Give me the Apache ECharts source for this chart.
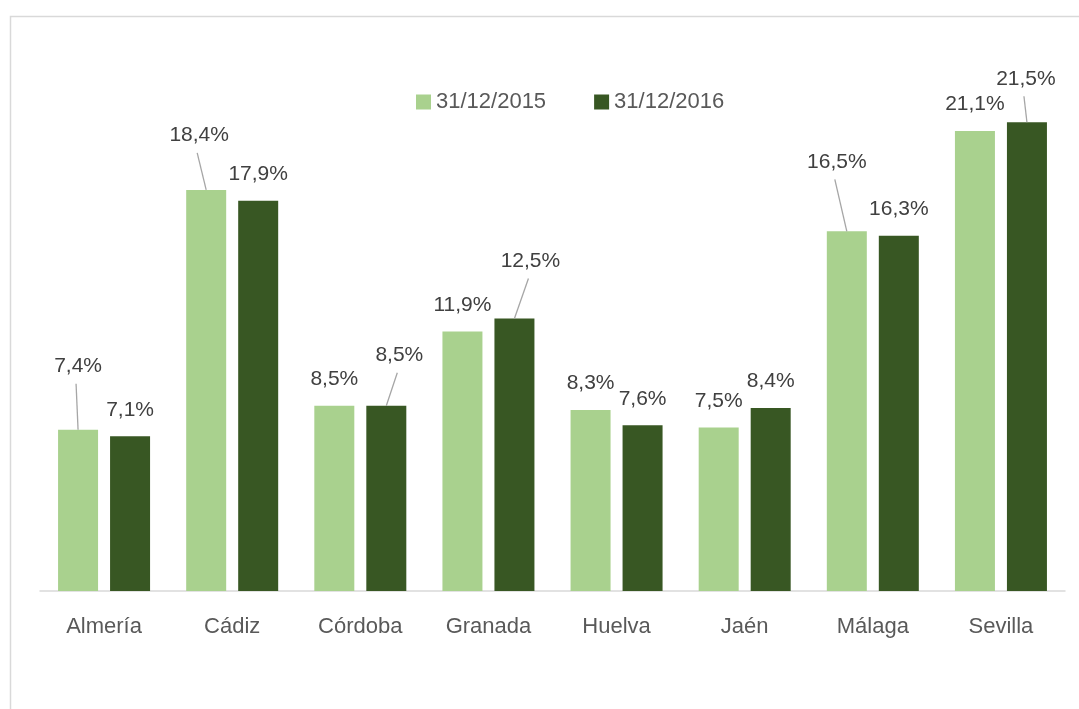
<!DOCTYPE html>
<html>
<head>
<meta charset="utf-8">
<script src="https://cdn.jsdelivr.net/npm/echarts@6/dist/echarts.min.js"></script>
<style>
  html, body { margin: 0; padding: 0; background: #fff; }
  #chart { width: 1079px; height: 709px; }
</style>
</head>
<body>
<div id="chart"></div>
<script>
  // datos
  const provincias = ['Almería', 'Cádiz', 'Córdoba', 'Granada', 'Huelva', 'Jaén', 'Málaga', 'Sevilla'];
  const nombres = ['31/12/2015', '31/12/2016'];
  const valores2015 = [7.4, 18.4, 8.5, 11.9, 8.3, 7.5, 16.5, 21.1];
  const valores2016 = [7.1, 17.9, 8.5, 12.5, 7.6, 8.4, 16.3, 21.5];

  // desplazamiento de etiquetas con línea guía [dx, dy]
  const desplaza2015 = { 0: [0, -37], 1: [-7, -28], 6: [-10, -43] };
  const desplaza2016 = { 2: [13, -24], 3: [16, -31], 7: [-1, -17] };
  const desplazamientos = [desplaza2015, desplaza2016];

  const fuente = '"Liberation Sans", Arial, sans-serif';
  const colores = ['#a9d18e', '#385723'];
  const anchoBarra = 40;
  const separacion = 12;
  const distEtiqueta = 16;
  const tamEtiqueta = 21;

  const fmt = (p) => p.value.toFixed(1).replace('.', ',') + '%';

  const serie = (idx, vals, desp) => ({
    name: nombres[idx],
    type: 'bar',
    barWidth: anchoBarra,
    barGap: (separacion / anchoBarra) * 100 + '%',
    color: colores[idx],
    data: vals,
    label: {
      show: true,
      position: 'top',
      distance: distEtiqueta,
      offset: [-2, 0],
      color: '#404040',
      fontSize: tamEtiqueta,
      fontFamily: fuente,
      formatter: fmt,
    },
    labelLayout: (params) => {
      const d = desp[params.dataIndex];
      return d ? { dx: d[0], dy: d[1] } : {};
    },
  });

  // líneas guía de las etiquetas desplazadas
  const guias = [];
  [valores2015, valores2016].forEach((vals, s) => {
    Object.keys(desplazamientos[s]).forEach((k) => {
      guias.push([+k, vals[+k], s]);
    });
  });

  const lineasGuia = {
    type: 'custom',
    silent: true,
    z: 5,
    data: guias,
    encode: { x: 0, y: 1 },
    renderItem: (params, api) => {
      const i = api.value(0);
      const s = api.value(2);
      const d = desplazamientos[s][i];
      const tope = api.coord([i, api.value(1)]);
      const bx = tope[0] + (s === 0 ? -1 : 1) * (anchoBarra + separacion) / 2;
      const lx = bx - 2 + d[0];
      const ly = tope[1] - distEtiqueta + d[1] + 7;
      return {
        type: 'line',
        shape: { x1: lx, y1: ly, x2: bx, y2: tope[1] },
        style: { stroke: '#a6a6a6', lineWidth: 1.3 },
      };
    },
  };

  const myChart = echarts.init(document.getElementById('chart'));
  const option = {
    animation: false,
    grid: { left: 40, right: 14, top: 46, bottom: 118 },
    legend: {
      left: 411,
      top: 86,
      icon: 'rect',
      itemWidth: 15,
      itemHeight: 15,
      itemGap: 48,
      textStyle: { color: '#595959', fontSize: 22, fontFamily: fuente },
      data: nombres,
    },
    graphic: [
      {
        type: 'rect',
        shape: { x: 10.5, y: 16.5, width: 1200, height: 800 },
        style: { fill: 'none', stroke: '#d9d9d9', lineWidth: 1.5 },
        silent: true,
      },
    ],
    xAxis: {
      type: 'category',
      data: provincias,
      axisTick: { show: false },
      axisLine: { lineStyle: { color: '#d9d9d9', width: 1.5 } },
      axisLabel: { color: '#595959', fontSize: 22, fontFamily: fuente, margin: 25, interval: 0 },
    },
    yAxis: {
      type: 'value',
      min: 0,
      max: 25,
      show: false,
      splitLine: { show: false },
    },
    series: [serie(0, valores2015, desplaza2015), serie(1, valores2016, desplaza2016), lineasGuia],
  };
  myChart.setOption(option);
</script>
</body>
</html>
